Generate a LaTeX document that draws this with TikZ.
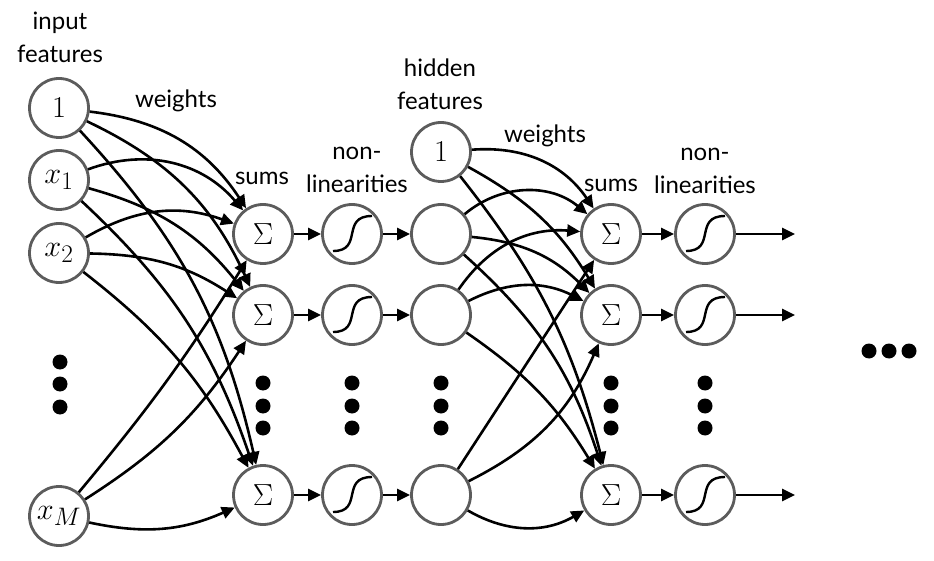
\documentclass[tikz,border=0pt]{standalone}
\usepackage{fontspec}
\newfontfamily\labelfont{Lato}
\usetikzlibrary{arrows.meta,positioning}
\definecolor{ringgray}{RGB}{92,92,92}
\newcommand{\cellmath}[1]{\scalebox{1.22}{$#1$}}
\newcommand{\sumsign}{{\fontsize{30.5}{32}\selectfont Σ}}

\begin{document}
\begin{tikzpicture}[x=1pt,y=1pt]
\tikzset{unit/.style={circle,draw=ringgray,line width=2.8pt,minimum size=59pt,inner sep=0pt,font=\fontsize{24.88}{28}\selectfont},
  sig/.style={unit,path picture={\draw[line width=2.4pt,black] ([shift={(-19pt,-17pt)}]path picture bounding box.center) .. controls +(31pt,0pt) and +(-32pt,0pt) .. ++(39pt,35pt);}},
  wire/.style={line width=2.6pt,-{Triangle[length=13pt,width=12pt]}},
  lbl/.style={font=\labelfont\fontsize{24}{33}\selectfont,align=center,anchor=base,inner sep=0pt},
  dotfill/.style={fill=black}}
\useasboundingbox (0,0) rectangle (934,-561);
% input features
\node[unit] (in0) at (59,-108) {\cellmath{1}};
\node[unit] (in1) at (59,-180) {\cellmath{x_1}};
\node[unit] (in2) at (59,-253) {\cellmath{x_2}};
\node[unit] (inM) at (59,-516) {\cellmath{x_M}};
% first sums and nonlinearities
\node[unit] (s1) at (263,-234) {\sumsign};
\node[unit] (s2) at (263,-315) {\sumsign};
\node[unit] (s3) at (263,-495) {\sumsign};
\node[sig] (g1) at (352,-234) {};
\node[sig] (g2) at (352,-315) {};
\node[sig] (g3) at (352,-495) {};
% hidden features
\node[unit] (h0) at (441,-152) {\cellmath{1}};
\node[unit] (h1) at (441,-234) {};
\node[unit] (h2) at (441,-315) {};
\node[unit] (h3) at (441,-495) {};
% second sums and nonlinearities
\node[unit] (t1) at (611,-234) {\sumsign};
\node[unit] (t2) at (611,-315) {\sumsign};
\node[unit] (t3) at (611,-495) {\sumsign};
\node[sig] (u1) at (705,-234) {};
\node[sig] (u2) at (705,-315) {};
\node[sig] (u3) at (705,-495) {};
\coordinate (o1) at (795,-234);
\coordinate (o2) at (795,-315);
\coordinate (o3) at (795,-495);
% labels
\node[lbl] (inlbl) at (60,-63) {input\\features};
\node[lbl] (w1lbl) at (176,-108) {weights};
\node[lbl] (s1lbl) at (262,-185) {sums};
\node[lbl] (g1lbl) at (357,-193) {non-\\linearities};
\node[lbl] (hlbl) at (440,-110) {hidden\\features};
\node[lbl] (w2lbl) at (545,-143) {weights};
\node[lbl] (s2lbl) at (611,-192) {sums};
\node[lbl] (u1lbl) at (705,-194) {non-\\linearities};
% first layer weights
\draw[wire] (in0) to[bend left=25] (s1);
\draw[wire] (in0) to[bend left=20] (s2);
\draw[wire] (in0) to[bend left=15] (s3);
\draw[wire] (in1) to[bend left=35] (s1);
\draw[wire] (in1) to[bend left=18] (s2);
\draw[wire] (in1) to[bend left=14] (s3);
\draw[wire] (in2) to[bend left=25] (s1);
\draw[wire] (in2) to[bend left=16] (s2);
\draw[wire] (in2) to[bend left=12] (s3);
\draw[wire] (inM) to[bend right=4] (s1);
\draw[wire] (inM) to[bend right=12] (s2);
\draw[wire] (inM) to[bend right=18] (s3);
% sums to nonlinearities to hidden
\draw[wire] (s1) -- (g1);
\draw[wire] (s2) -- (g2);
\draw[wire] (s3) -- (g3);
\draw[wire] (g1) -- (h1);
\draw[wire] (g2) -- (h2);
\draw[wire] (g3) -- (h3);
% second layer weights
\draw[wire] (h0) to[bend left=30] (t1);
\draw[wire] (h0) to[bend left=15] (t2);
\draw[wire] (h0) to[bend left=12] (t3);
\draw[wire] (h1) to[bend left=40] (t1);
\draw[wire] (h1) to[bend left=20] (t2);
\draw[wire] (h1) to[bend left=15] (t3);
\draw[wire] (h2) to[bend left=30] (t1);
\draw[wire] (h2) to[bend left=27] (t2);
\draw[wire] (h2) to[bend left=12] (t3);
\draw[wire] (h3) -- (t1);
\draw[wire] (h3) to[bend right=20] (t2);
\draw[wire] (h3) to[bend right=30] (t3);
\draw[wire] (t1) -- (u1);
\draw[wire] (t2) -- (u2);
\draw[wire] (t3) -- (u3);
\draw[wire] (u1) -- (o1);
\draw[wire] (u2) -- (o2);
\draw[wire] (u3) -- (o3);
% vertical dots
\fill[dotfill] (60,-362) circle[radius=7.5pt];
\fill[dotfill] (60,-384) circle[radius=7.5pt];
\fill[dotfill] (60,-407) circle[radius=7.5pt];
\fill[dotfill] (263,-383) circle[radius=7.5pt];
\fill[dotfill] (263,-406) circle[radius=7.5pt];
\fill[dotfill] (263,-428) circle[radius=7.5pt];
\fill[dotfill] (352,-383) circle[radius=7.5pt];
\fill[dotfill] (352,-406) circle[radius=7.5pt];
\fill[dotfill] (352,-428) circle[radius=7.5pt];
\fill[dotfill] (441,-383) circle[radius=7.5pt];
\fill[dotfill] (441,-406) circle[radius=7.5pt];
\fill[dotfill] (441,-428) circle[radius=7.5pt];
\fill[dotfill] (611,-383) circle[radius=7.5pt];
\fill[dotfill] (611,-406) circle[radius=7.5pt];
\fill[dotfill] (611,-428) circle[radius=7.5pt];
\fill[dotfill] (705,-383) circle[radius=7.5pt];
\fill[dotfill] (705,-406) circle[radius=7.5pt];
\fill[dotfill] (705,-428) circle[radius=7.5pt];
% horizontal dots
\fill[dotfill] (869,-351) circle[radius=7.5pt];
\fill[dotfill] (889,-351) circle[radius=7.5pt];
\fill[dotfill] (909,-351) circle[radius=7.5pt];
\end{tikzpicture}
\end{document}
